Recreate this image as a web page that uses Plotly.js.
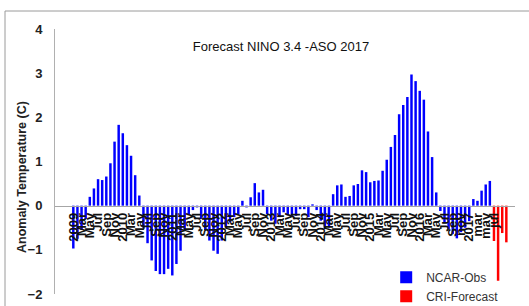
<!DOCTYPE html>
<html><head><meta charset="utf-8">
<script src="https://cdn.plot.ly/plotly-3.0.1.min.js"></script>
<style>html,body{margin:0;padding:0;background:#fff;}#chart{width:529px;height:306px;}</style>
</head><body><div id="chart"></div>
<script>
const years = [2009, 2010, 2011, 2012, 2013, 2014, 2015, 2016, 2017];
const monthNames = ["Jan","Feb","Mar","Apr","May","Jun","Jul","Aug","Sep","Oct","Nov","Dec"];

// NCAR observed Nino 3.4 anomaly, Jan 2009 - Jun 2017
const obsValues = [
  -0.97, -0.75, -0.55, -0.30, 0.20, 0.39, 0.60, 0.58, 0.66, 0.96, 1.45, 1.83,
  1.64, 1.37, 1.13, 0.69, 0.23, -0.50, -0.85, -1.24, -1.48, -1.55, -1.55, -1.43,
  -1.58, -1.32, -1.02, -0.55, -0.20, -0.10, -0.04, -0.30, -0.55, -0.79, -1.02, -1.09,
  -0.79, -0.49, -0.38, -0.26, -0.19, 0.11, -0.04, 0.19, 0.51, 0.30, 0.36, -0.19,
  -0.34, -0.41, -0.26, -0.15, -0.22, -0.25, -0.23, -0.08, -0.08, -0.26, 0.03, -0.10,
  -0.34, -0.53, -0.49, 0.26, 0.46, 0.48, 0.20, 0.22, 0.46, 0.49, 0.80, 0.76,
  0.53, 0.56, 0.57, 0.79, 1.04, 1.33, 1.60, 2.07, 2.28, 2.46, 2.97, 2.82,
  2.60, 2.40, 1.68, 1.10, 0.30, -0.12, -0.40, -0.53, -0.64, -0.74, -0.60, -0.50,
  -0.35, 0.15, 0.11, 0.34, 0.48, 0.56
];
// CRI forecast, Jul - Oct 2017
const forecastMonths = ["Jul 2017", "Aug 2017", "Sep 2017", "Oct 2017"];
const forecastValues = [-0.80, -1.70, -0.62, -0.83];

const tickText = [
  "2009","Mar","May","Jul","Sep","Nov",
  "2010","Mar","May","Jul","Sep","Nov",
  "2011","Mar","May","Jul","Sep","Nov",
  "2012","Mar","May","Jul","Sep","Nov",
  "2013","Mar","May","Jul","Sep","Nov",
  "2014","Mar","May","Jul","Sep","Nov",
  "2015","Mar","May","Jul","Sep","Nov",
  "2016","Mar","May","Jul","Sep","nov",
  "2017","mar","may","jul"
];

const allMonths = [];
years.forEach(y => monthNames.forEach(m => allMonths.push(m + " " + y)));
const months = allMonths.slice(0, obsValues.length + forecastValues.length);
const obsMonths = months.slice(0, obsValues.length);
const tickVals = tickText.map((t, i) => months[i * 2]);

const narrow = "Liberation Sans Narrow, Arial Narrow, Liberation Sans, sans-serif";
const wide = "Liberation Sans, Arial, sans-serif";

const traces = [
  {type: "bar", name: "NCAR-Obs", x: obsMonths, y: obsValues, width: 0.6,
   marker: {color: "#0000ff", line: {width: 0}}},
  {type: "bar", name: "CRI-Forecast", x: forecastMonths, y: forecastValues, width: 0.6,
   marker: {color: "#ff0000", line: {width: 0}}}
];

const layout = {
  width: 529, height: 306,
  margin: {l: 55, r: 14, t: 29, b: 12, pad: 0, autoexpand: false},
  paper_bgcolor: "#ffffff", plot_bgcolor: "#ffffff",
  barmode: "overlay",
  showlegend: true,
  title: {text: "Forecast NINO 3.4 -ASO 2017", x: 281/529, xanchor: "center",
          y: 1 - 46/306, yanchor: "middle", automargin: false,
          font: {family: narrow, size: 13, color: "#111"}},
  xaxis: {type: "category", categoryorder: "array", categoryarray: months,
          range: [-4.44, 107.1], anchor: "free", position: 1/3, automargin: false,
          showline: true, linecolor: "#a6a6a6", linewidth: 1,
          showgrid: false, zeroline: false, ticks: "",
          tickmode: "array", tickvals: tickVals, ticktext: tickText,
          tickangle: -90, ticklabelstandoff: 1,
          tickfont: {family: wide, size: 13, color: "#111", weight: "bold"}},
  yaxis: {range: [-2, 4], dtick: 1, showline: true, linecolor: "#b0b0b0", linewidth: 1,
          automargin: false,
          showgrid: false, zeroline: false, ticks: "", ticklabelstandoff: 9,
          tickfont: {family: narrow, size: 13, color: "#222", weight: "bold"}},
  legend: {x: 0.72, y: 0.118, xanchor: "left", yanchor: "top",
           bgcolor: "rgba(0,0,0,0)", itemwidth: 30, tracegroupgap: 0,
           font: {family: narrow, size: 12, color: "#333"}},
  annotations: [
    {text: "<b>Anomaly Temperature (C)</b>", xref: "paper", yref: "paper",
     x: (22-55)/460, y: (294-177)/265, textangle: -90, showarrow: false,
     xanchor: "center", yanchor: "middle",
     font: {family: wide, size: 12.5, color: "#222"}}
  ],
  shapes: [
    {type: "rect", xref: "paper", yref: "paper", x0: (5-55)/460, x1: 1.2,
     y0: -0.2, y1: 1 + 18/265, line: {color: "#9a9a9a", width: 1}, fillcolor: "rgba(0,0,0,0)"}
  ]
};

Plotly.newPlot("chart", traces, layout, {staticPlot: true, displayModeBar: false});
</script></body></html>
